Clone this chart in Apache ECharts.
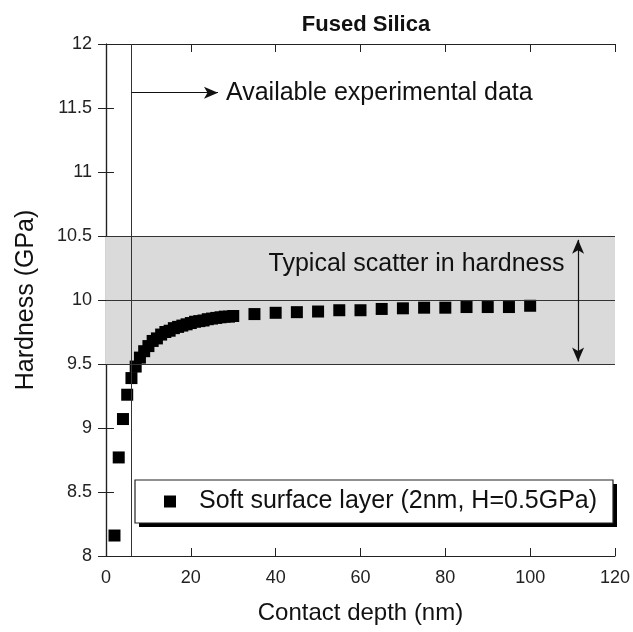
<!DOCTYPE html>
<html>
<head>
<meta charset="utf-8">
<script src="https://cdn.jsdelivr.net/npm/echarts@6/dist/echarts.min.js"></script>
<style>html,body{margin:0;padding:0;background:#fff}#c{width:633px;height:632px}</style>
</head>
<body>
<div id="c"></div>
<script>
// Data
var depth = [2,3,4,5,6,7,8,9,10,11,12,13,14,15,16,17,18,19,20,21,22,23,24,25,26,27,28,29,30,35,40,45,50,55,60,65,70,75,80,85,90,95,100];
var hardness = [8.16,8.77,9.07,9.26,9.39,9.48,9.55,9.60,9.64,9.68,9.70,9.73,9.75,9.76,9.78,9.79,9.80,9.81,9.82,9.83,9.835,9.84,9.85,9.855,9.86,9.865,9.87,9.87,9.875,9.89,9.90,9.905,9.91,9.92,9.92,9.93,9.935,9.94,9.94,9.945,9.945,9.945,9.955];
var seriesName = 'Soft surface layer (2nm, H=0.5GPa)';
var scatterBand = [9.5, 10.5];
var bandLines = [9.5, 10, 10.5];
var expLimit = 6;            // nm, vertical line
var expArrowEnd = 26.4;      // nm
var expArrowY = 11.62;
var scatterArrowX = 111.3;
var scatterArrowRange = [9.52, 10.47];
var scatterLabelPos = [108.1, 10.28];

var FONT = "'Liberation Sans', Arial, sans-serif";
var pts = depth.map(function (d, i) { return [d, hardness[i]]; });

var chart = echarts.init(document.getElementById('c'), null, {renderer: 'canvas'});
var axisLine = {show: true, lineStyle: {color: '#222', width: 1.2}};
var LEG = {x: 135, y: 480, w: 478, h: 43};
chart.setOption({
  backgroundColor: '#fff',
  animation: false,
  title: {
    text: 'Fused Silica', left: 361, top: 9, textAlign: 'center',
    textStyle: {fontFamily: FONT, fontSize: 22, fontWeight: 'bold', color: '#111'}
  },
  grid: {left: 106, right: 15, top: 44, bottom: 76},
  graphic: [
    {type: 'rect', z: 10, silent: true, shape: {x: LEG.x + 4, y: LEG.y + 4, width: LEG.w, height: LEG.h},
     style: {fill: '#000'}},
    {type: 'rect', z: 11, silent: true, shape: {x: LEG.x, y: LEG.y, width: LEG.w, height: LEG.h},
     style: {fill: '#fff', stroke: '#222', lineWidth: 1.2}}
  ],
  legend: {
    data: [{name: seriesName, icon: 'rect'}],
    left: LEG.x, top: LEG.y, orient: 'horizontal', z: 20,
    itemWidth: 12, itemHeight: 12,
    padding: [9, 10, 9, 29],
    textStyle: {fontFamily: FONT, fontSize: 25, color: '#111', padding: [0, 0, 0, 18]}
  },
  xAxis: [{
    type: 'value', min: 0, max: 120, interval: 20,
    name: 'Contact depth (nm)', nameLocation: 'middle', nameGap: 45,
    nameTextStyle: {fontFamily: FONT, fontSize: 24, color: '#111'},
    axisLine: axisLine, axisTick: {show: true, inside: true, length: 8, lineStyle: {color: '#222'}},
    axisLabel: {fontFamily: FONT, fontSize: 18, color: '#222', margin: 13},
    splitLine: {show: false}
  }, {
    type: 'value', min: 0, max: 120, interval: 20, position: 'top',
    axisLine: axisLine, axisTick: {show: true, inside: true, length: 8, lineStyle: {color: '#222'}},
    axisLabel: {show: false}, splitLine: {show: false}
  }],
  yAxis: [{
    type: 'value', min: 8, max: 12, interval: 0.5,
    name: 'Hardness (GPa)', nameLocation: 'middle', nameGap: 67,
    nameTextStyle: {fontFamily: FONT, fontSize: 25, color: '#111'},
    axisLine: axisLine, axisTick: {show: true, inside: true, length: 8, lineStyle: {color: '#222'}},
    axisLabel: {fontFamily: FONT, fontSize: 18, color: '#222', margin: 14},
    splitLine: {show: false}
  }, {
    type: 'value', min: 8, max: 12, interval: 0.5, position: 'right',
    axisLine: axisLine, axisTick: {show: true, inside: true, length: 8, lineStyle: {color: '#222'}},
    axisLabel: {show: false}, splitLine: {show: false}
  }],
  series: [{
    name: 'annotations', type: 'line', data: [], z: 1, silent: true,
    markArea: {
      silent: true,
      itemStyle: {color: '#dadada'},
      data: [[{yAxis: scatterBand[0]}, {yAxis: scatterBand[1]}]]
    },
    markLine: {
      silent: true, symbol: ['none', 'none'],
      lineStyle: {color: '#333', width: 1, type: 'solid'},
      label: {show: false},
      data: [{xAxis: expLimit}].concat(bandLines.map(function (v) { return {yAxis: v}; }))
    }
  }, {
    name: 'arrows', type: 'line', data: [], z: 4, silent: true,
    markLine: {
      silent: true, symbol: ['none', 'arrow'], symbolSize: [9, 14],
      lineStyle: {color: '#111', width: 1.2, type: 'solid'},
      data: [
        [{coord: [expLimit, expArrowY], label: {show: true, position: 'end', distance: 8,
            formatter: 'Available experimental data', fontFamily: FONT, fontSize: 25, color: '#111'}},
         {coord: [expArrowEnd, expArrowY]}],
        [{coord: [scatterArrowX, scatterArrowRange[0]], symbol: 'arrow', label: {show: false}},
         {coord: [scatterArrowX, scatterArrowRange[1]], symbol: 'arrow'}]
      ]
    },
    markPoint: {
      silent: true, symbol: 'rect', symbolSize: 0,
      data: [{coord: scatterLabelPos, label: {show: true, position: 'inside', align: 'right', verticalAlign: 'middle',
        formatter: 'Typical scatter in hardness', fontFamily: FONT, fontSize: 25, color: '#111'}}]
    }
  }, {
    name: seriesName, type: 'scatter', z: 3,
    symbol: 'rect', symbolSize: 12,
    itemStyle: {color: '#000', opacity: 1},
    data: pts
  }]
});
</script>
</body>
</html>
